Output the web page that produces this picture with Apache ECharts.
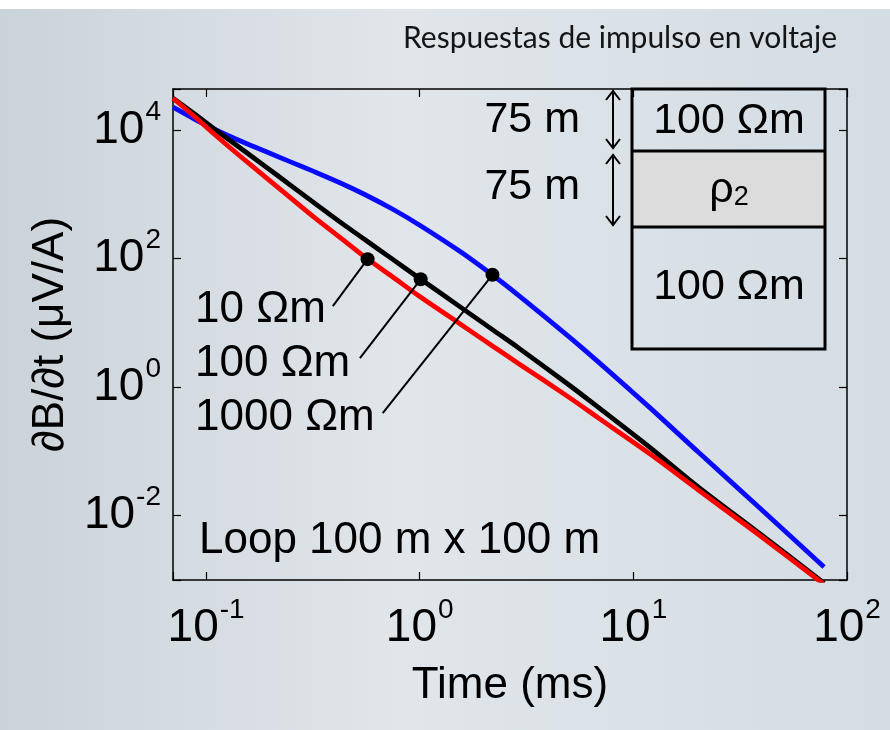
<!DOCTYPE html>
<html><head><meta charset="utf-8">
<script src="https://cdn.jsdelivr.net/npm/echarts@6/dist/echarts.min.js"></script>
<style>html,body{margin:0;padding:0;background:#fff;} #c{width:890px;height:730px;}</style>
</head><body><div id="c"></div>
<script>
// ---- data (time in ms, dB/dt in µV/A) ----
const timeMs = [0.070,0.089,0.110,0.144,0.189,0.247,0.323,0.423,0.553,0.748,1.0,1.54,2.19,2.93,5.02,6.93,11.9,20.3,38.8,78.1];
const resp10Ohm = [31250,15770,8450,3940,1866,895,430,214,106,51.6,25.7,9.72,4.36,2.28,0.687,0.324,0.0924,0.0246,0.00501,0.000854];
const resp100Ohm = [31250,17420,10250,5290,2725,1405,724,373,198,97.2,48.9,17.9,7.84,3.98,1.07,0.471,0.117,0.0274,0.00536,0.000895];
const resp1000Ohm = [22630,14560,10180,6790,4665,3225,2230,1515,993,585,331,130,55.6,26.1,6.01,2.39,0.485,0.0951,0.01346,0.00159];
const seriesNames = ['10 Ωm','100 Ωm','1000 Ωm'];
const markerTimes = [0.57, 1.01, 2.19];
const markerValues = [98, 47.6, 56];
const calloutEndTimes = [0.392, 0.525, 0.671];
const calloutEndValues = [18.2, 2.83, 0.394];
const calloutTextTimes = [0.0888, 0.0888, 0.0888];
const calloutTextValues = [15.8, 2.28, 0.33];
const xRange = [0.07, 100];
const yRange = [0.001, 43450];

const L = Math.log10;
const F = "'Liberation Sans', Arial, sans-serif";
const chart = echarts.init(document.getElementById('c'));

const tickRich = {
  b: {fontSize: 46, fontFamily: F, color: '#000', lineHeight: 64},
  s: {fontSize: 28, fontFamily: F, color: '#000', verticalAlign: 'top', lineHeight: 28, padding: [0, 0, 0, 1]}
};
const pow = v => '{b|10}{s|' + v + '}';

function curve(vals) { return timeMs.map((t, i) => [L(t), L(vals[i])]); }

const lineCommon = {type: 'line', showSymbol: false, smooth: 0.3, clip: true, lineStyle: {width: 4.8}};

const option = {
  animation: false,
  backgroundColor: new echarts.graphic.LinearGradient(0, 0, 1, 0, [
    {offset: 0, color: '#cbd3da'}, {offset: 0.45, color: '#e0e6ea'}, {offset: 1, color: '#d4dde4'}
  ]),
  title: {
    text: 'Respuestas de impulso en voltaje', right: 48, top: 18,
    textStyle: {fontFamily: 'Lato, "Open Sans", sans-serif', fontWeight: 'normal', fontSize: 30, color: '#151515'}
  },
  grid: {left: 173, right: 43, top: 89, bottom: 150, show: false, containLabel: false, outerBoundsMode: 'none'},
  xAxis: [{
    type: 'value', min: L(xRange[0]), max: L(xRange[1]), splitNumber: 3,
    name: 'Time (ms)', nameLocation: 'middle', nameGap: 84,
    nameTextStyle: {fontFamily: F, fontSize: 44, color: '#000'},
    axisLine: {show: true, onZero: false, lineStyle: {color: '#000', width: 1.5}},
    axisTick: {show: true, inside: true, length: 8, lineStyle: {color: '#000', width: 1.2}},
    splitLine: {show: false},
    axisLabel: {margin: 16, formatter: v => Number.isInteger(v) ? pow(v) : '', rich: tickRich}
  }, {
    type: 'value', position: 'top', min: L(xRange[0]), max: L(xRange[1]), splitNumber: 3,
    axisLine: {show: true, onZero: false, lineStyle: {color: '#000', width: 1.5}},
    axisTick: {show: true, inside: true, length: 8, lineStyle: {color: '#000', width: 1.2}},
    axisLabel: {show: false}, splitLine: {show: false}
  }],
  yAxis: [{
    type: 'value', min: L(yRange[0]), max: L(yRange[1]), splitNumber: 4,
    name: '∂B/∂t (μV/A)', nameLocation: 'middle', nameGap: 94, nameRotate: 90,
    nameTextStyle: {fontFamily: F, fontSize: 44, color: '#000'},
    axisLine: {show: true, onZero: false, lineStyle: {color: '#000', width: 1.5}},
    axisTick: {show: true, inside: true, length: 8, lineStyle: {color: '#000', width: 1.2}},
    splitLine: {show: false},
    axisLabel: {margin: 12, formatter: v => (Number.isInteger(v) && v % 2 === 0) ? pow(v) : '', rich: tickRich}
  }, {
    type: 'value', position: 'right', min: L(yRange[0]), max: L(yRange[1]), splitNumber: 4,
    axisLine: {show: true, onZero: false, lineStyle: {color: '#000', width: 1.5}},
    axisTick: {show: true, inside: true, length: 8, lineStyle: {color: '#000', width: 1.2}},
    axisLabel: {show: false}, splitLine: {show: false}
  }],
  series: [
    Object.assign({}, lineCommon, {name: seriesNames[2], data: curve(resp1000Ohm), color: '#0a0aff', z: 2}),
    Object.assign({}, lineCommon, {name: seriesNames[1], data: curve(resp100Ohm), color: '#000000', z: 3}),
    Object.assign({}, lineCommon, {name: seriesNames[0], data: curve(resp10Ohm), color: '#ff0000', z: 4}),
    {
      type: 'lines', coordinateSystem: 'cartesian2d', z: 5, silent: true,
      lineStyle: {color: '#000', width: 2, opacity: 1},
      data: markerTimes.map((t, i) => ({coords: [[L(t), L(markerValues[i])], [L(calloutEndTimes[i]), L(calloutEndValues[i])]]}))
    },
    {
      type: 'scatter', z: 6, symbol: 'circle', symbolSize: 14, itemStyle: {color: '#000', opacity: 1},
      data: markerTimes.map((t, i) => [L(t), L(markerValues[i])])
    },
    {
      type: 'scatter', z: 6, symbolSize: 0, silent: true, itemStyle: {opacity: 1},
      data: calloutTextTimes.map((t, i) => ({value: [L(t), L(calloutTextValues[i])], name: seriesNames[i]})),
      label: {show: true, position: 'right', distance: 0, formatter: p => p.name, opacity: 1,
        fontFamily: F, fontSize: 44, color: '#000', textBorderWidth: 0}
    }
  ],
  graphic: [
    {type: 'rect', left: 0, top: 0, shape: {width: 890, height: 9}, style: {fill: '#ffffff'}, z: 0},
    {type: 'text', left: 199, top: 519, style: {text: 'Loop 100 m x 100 m', font: '44px ' + F, fill: '#000'}},
    // layered-earth inset
    {type: 'rect', shape: {x: 632, y: 151, width: 193, height: 76}, style: {fill: '#dcdcdc', stroke: null}},
    {type: 'rect', shape: {x: 632, y: 89, width: 193, height: 260}, style: {fill: 'none', stroke: '#000', lineWidth: 3}},
    {type: 'line', shape: {x1: 632, y1: 151, x2: 825, y2: 151}, style: {stroke: '#000', lineWidth: 3}},
    {type: 'line', shape: {x1: 632, y1: 227, x2: 825, y2: 227}, style: {stroke: '#000', lineWidth: 3}},
    {type: 'text', x: 729, y: 121, style: {text: '100 Ωm', font: '43px ' + F, fill: '#000', align: 'center', verticalAlign: 'middle'}},
    {type: 'text', x: 729, y: 190, style: {text: '{r|ρ}{s|2}', font: '43px ' + F, fill: '#000', align: 'center', verticalAlign: 'middle',
      rich: {r: {fontSize: 43, fontFamily: F}, s: {fontSize: 27, fontFamily: F, verticalAlign: 'bottom'}}}},
    {type: 'text', x: 729, y: 287, style: {text: '100 Ωm', font: '43px ' + F, fill: '#000', align: 'center', verticalAlign: 'middle'}},
    {type: 'text', x: 580, y: 120, style: {text: '75 m', font: '43px ' + F, fill: '#000', align: 'right', verticalAlign: 'middle'}},
    {type: 'text', x: 580, y: 187, style: {text: '75 m', font: '43px ' + F, fill: '#000', align: 'right', verticalAlign: 'middle'}},
    {type: 'line', shape: {x1: 613, y1: 91, x2: 613, y2: 148}, style: {stroke: '#000', lineWidth: 2}},
    {type: 'polyline', shape: {points: [[606, 100], [613, 91], [620, 100]]}, style: {stroke: '#000', lineWidth: 2, fill: null}},
    {type: 'polyline', shape: {points: [[606, 139], [613, 148], [620, 139]]}, style: {stroke: '#000', lineWidth: 2, fill: null}},
    {type: 'line', shape: {x1: 613, y1: 155, x2: 613, y2: 225}, style: {stroke: '#000', lineWidth: 2}},
    {type: 'polyline', shape: {points: [[606, 164], [613, 155], [620, 164]]}, style: {stroke: '#000', lineWidth: 2, fill: null}},
    {type: 'polyline', shape: {points: [[606, 216], [613, 225], [620, 216]]}, style: {stroke: '#000', lineWidth: 2, fill: null}}
  ]
};
chart.setOption(option);
</script></body></html>
